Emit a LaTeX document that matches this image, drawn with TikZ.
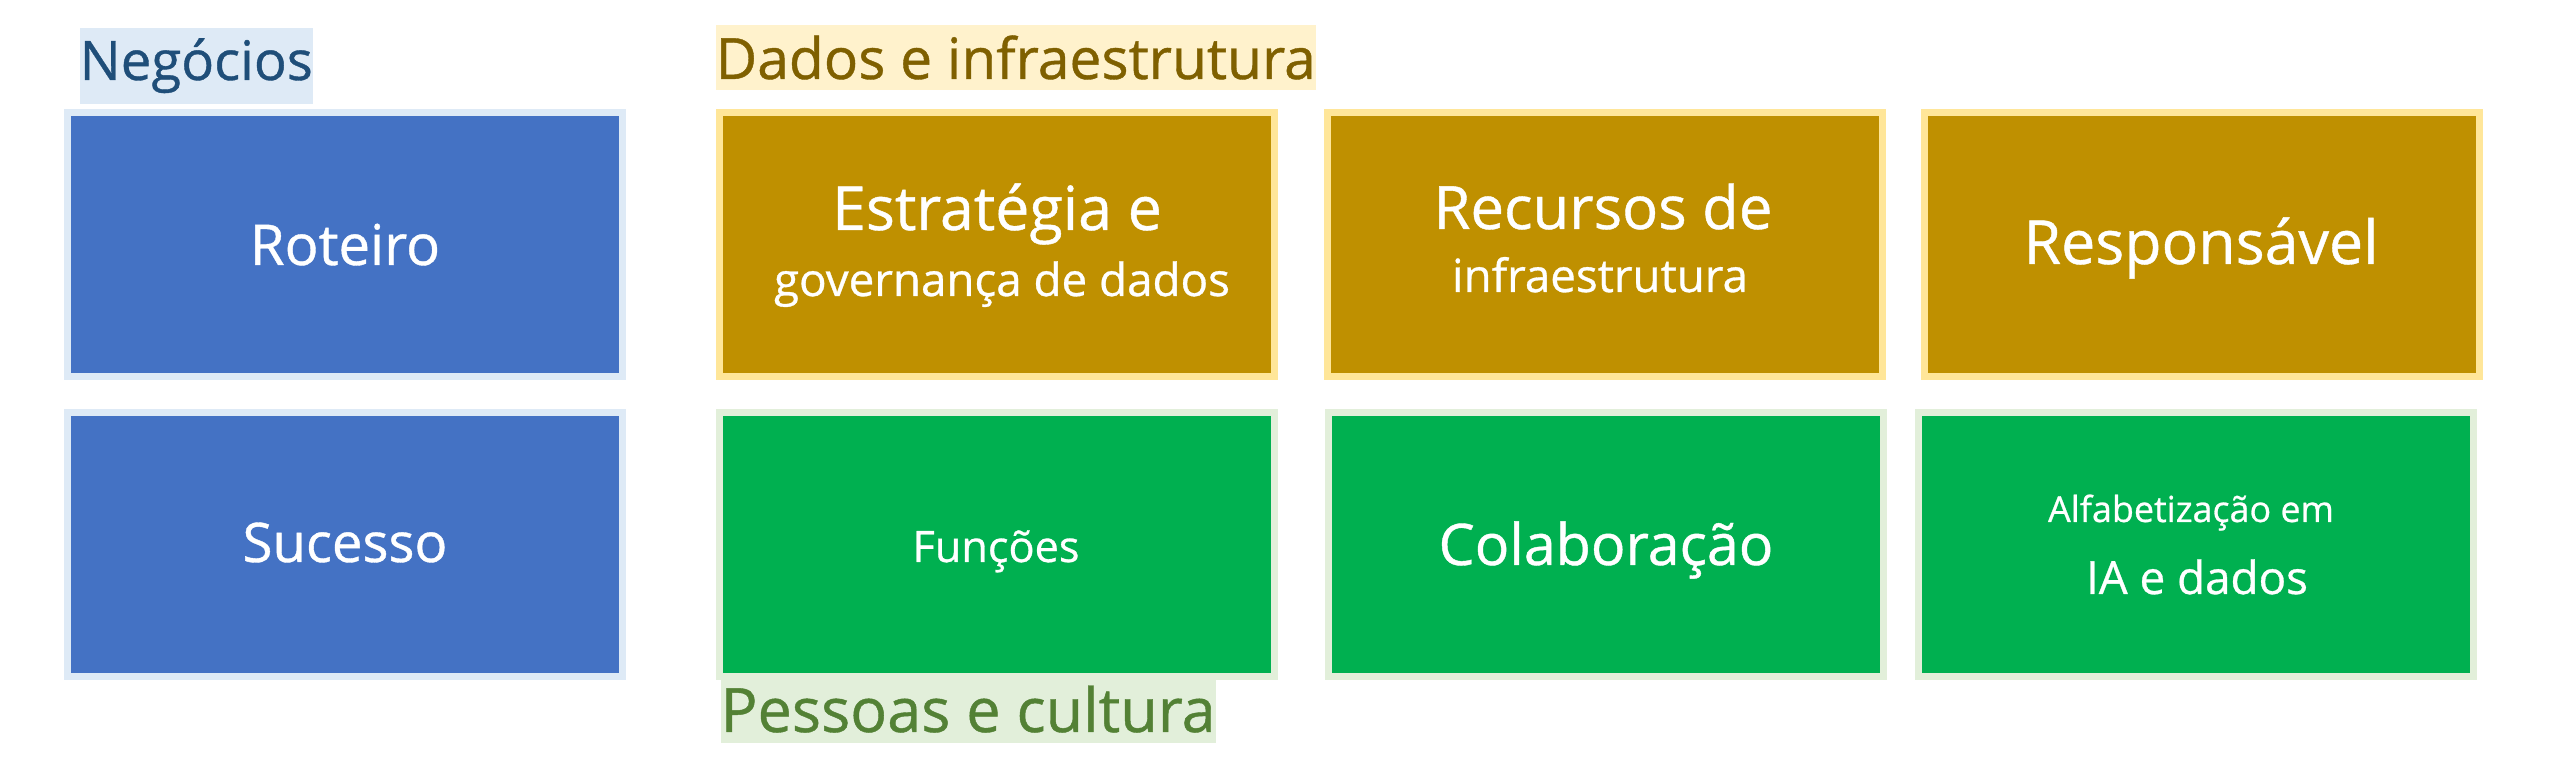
\documentclass[tikz,border=0pt]{standalone}
\usepackage{fontspec}
\setmainfont{Open Sans}[FakeBold=0.7]
\definecolor{bleu}{HTML}{4472C4}
\definecolor{bleuclair}{HTML}{DEEAF6}
\definecolor{bleufonce}{HTML}{1F4E79}
\definecolor{or}{HTML}{BF9000}
\definecolor{orclair}{HTML}{FFE699}
\definecolor{orsurligne}{HTML}{FFF2CC}
\definecolor{orfonce}{HTML}{7F6000}
\definecolor{vert}{HTML}{00B050}
\definecolor{vertclair}{HTML}{E2EFDA}
\definecolor{vertfonce}{HTML}{538135}

\begin{document}
\begin{tikzpicture}[x=0.01cm,y=-0.01cm]
\tikzset{boite/.style 2 args={draw=#2, fill=#1, line width=0.07cm, minimum width=5.55cm, minimum height=2.63cm, inner sep=0pt}}
\tikzset{titre/.style={anchor=base west, inner xsep=0pt, inner ysep=3pt}}
\tikzset{texte/.style={anchor=base, text=white, inner sep=0pt}}
\useasboundingbox (0,0) rectangle (2572,777);
\node[titre, fill=bleuclair, text=bleufonce, font=\fontsize{15.5}{18}\selectfont] (Neg) at (79,80) {Negócios};
\node[titre, fill=orsurligne, text=orfonce, font=\fontsize{16.2}{19}\selectfont] (Dad) at (715,79) {Dados e infraestrutura};
\node[titre, fill=vertclair, text=vertfonce, font=\fontsize{17.4}{20}\selectfont] (Pes) at (720,732) {Pessoas e cultura};
\node[boite={bleu}{bleuclair}] (B1) at (345,244.5) {};
\node[boite={bleu}{bleuclair}] (B2) at (345,544.5) {};
\node[boite={or}{orclair}] (O1) at (997,244.5) {};
\node[boite={or}{orclair}] (O2) at (1605,244.5) {};
\node[boite={or}{orclair}] (O3) at (2202,244.5) {};
\node[boite={vert}{vertclair}] (V1) at (997,544.5) {};
\node[boite={vert}{vertclair}] (V2) at (1606,544.5) {};
\node[boite={vert}{vertclair}] (V3) at (2196,544.5) {};
\node[texte, font=\fontsize{16}{20}\selectfont] (T1) at (345,265) {Roteiro};
\node[texte, font=\fontsize{15.5}{20}\selectfont] (T2) at (345,562) {Sucesso};
\node[texte, font=\fontsize{17.3}{20}\selectfont] (T3) at (997,230) {Estratégia e};
\node[texte, font=\fontsize{13}{16}\selectfont] (T3b) at (1002,296) {governança de dados};
\node[texte, font=\fontsize{17}{20}\selectfont] (T4) at (1603,229) {Recursos de};
\node[texte, font=\fontsize{13}{16}\selectfont] (T4b) at (1600,292) {infraestrutura};
\node[texte, font=\fontsize{17.3}{20}\selectfont] (T5) at (2201,264) {Responsável};
\node[texte, font=\fontsize{12.3}{15}\selectfont] (T6) at (996,562) {Funções};
\node[texte, font=\fontsize{16.3}{20}\selectfont] (T7) at (1606,565) {Colaboração};
\node[texte, font=\fontsize{10.2}{13}\selectfont] (T8) at (2191,522) {Alfabetização em};
\node[texte, font=\fontsize{13}{16}\selectfont] (T8b) at (2197,594) {IA e dados};
\end{tikzpicture}
\end{document}
